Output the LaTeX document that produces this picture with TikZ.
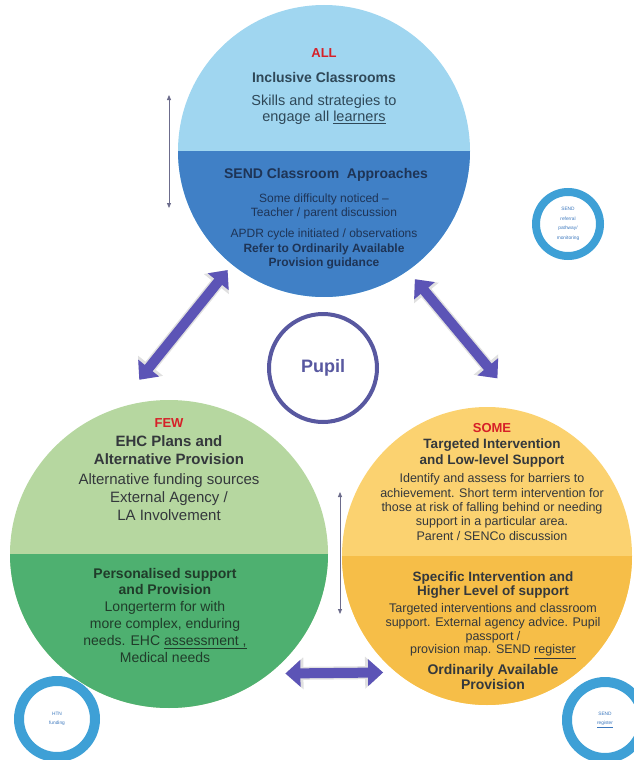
\documentclass[tikz,border=0pt]{standalone}
\usepackage{fontspec}
\setmainfont{Liberation Sans}
\usepackage{tikz}
\usetikzlibrary{arrows.meta,shapes.geometric,positioning}
\definecolor{allblue}{RGB}{160,214,240}
\definecolor{senddark}{RGB}{64,128,198}
\definecolor{fewlight}{RGB}{182,215,160}
\definecolor{fewdark}{RGB}{78,176,112}
\definecolor{somelight}{RGB}{251,210,112}
\definecolor{somedark}{RGB}{246,190,72}
\definecolor{levelred}{RGB}{214,32,40}
\definecolor{arrowpurple}{RGB}{92,84,182}
\definecolor{pupilring}{RGB}{88,88,160}
\definecolor{ringblue}{RGB}{62,160,214}
\definecolor{topink}{RGB}{47,72,88}
\definecolor{sendink}{RGB}{30,52,86}
\definecolor{greyink}{RGB}{52,56,60}
\definecolor{greenink}{RGB}{32,60,42}
\definecolor{smallink}{RGB}{60,120,190}
\definecolor{thinline}{RGB}{108,108,140}
\newcommand{\fsz}[2]{\fontsize{#1}{#2}\selectfont}
\tikzstyle{bigdisc} = [ellipse, inner sep=0pt, draw=none]
\tikzset{lowerhalf/.style={path picture={\fill[#1] (path picture bounding box.west) rectangle (path picture bounding box.south east);}}}
\tikzstyle{level} = [font=\fsz{13}{15}\bfseries, text=levelred, inner sep=0pt]
\tikzstyle{bodytext} = [align=center, inner sep=0pt]
\tikzstyle{bigarrow} = [line width=10pt, arrowpurple, {Triangle[length=15pt,width=26pt]}-{Triangle[length=15pt,width=26pt]}, preaction={draw=black!12, line width=13pt, arrows={Triangle[length=18pt,width=31pt]-Triangle[length=18pt,width=31pt]}}]
\tikzstyle{thinarrow} = [thick, thinline, {Triangle[length=5pt,width=4pt]}-{Triangle[length=5pt,width=4pt]}]
\tikzstyle{ring} = [circle, fill=white, draw=ringblue, line width=8pt, align=center, text=smallink, font=\fsz{4.8}{9.5}, inner sep=0pt]
\tikzstyle{pupilbox} = [circle, fill=white, draw=pupilring, line width=4pt, minimum size=108pt, font=\fsz{18}{20}\bfseries, text=pupilring]

\begin{document}
\begin{tikzpicture}[x=1pt, y=-1pt]
\useasboundingbox (0,0) rectangle (634,760);

% the three levels
\node (all) [bigdisc, minimum width=292pt, minimum height=292pt, fill=allblue, lowerhalf=senddark] at (324,151) {};
\node (few) [bigdisc, minimum width=318pt, minimum height=308pt, fill=fewlight, lowerhalf=fewdark] at (169,554) {};
\node (some) [bigdisc, minimum width=290pt, minimum height=298pt, fill=somelight, lowerhalf=somedark] at (487,556) {};

% ALL
\node (allhead) [level] at (324,53) {ALL};
\node (alltitle) [bodytext, text=topink, font=\fsz{14}{16}\bfseries] at (324,77) {Inclusive Classrooms};
\node (allbody) [bodytext, text=topink, font=\fsz{14.5}{16}] at (324,110) {Skills and strategies to\\engage all \underline{learners}};
\node (sendtitle) [bodytext, text=sendink, font=\fsz{14}{16}\bfseries] at (326,175) {SEND Classroom\ \ Approaches};
\node (sendbody) [bodytext, text=sendink, font=\fsz{12}{14}] at (324,206) {Some difficulty noticed --\\Teacher / parent discussion};
\node (sendguide) [bodytext, text=sendink, font=\fsz{12}{14.5}] at (324,249) {APDR cycle initiated / observations\\\textbf{Refer to Ordinarily Available}\\\textbf{Provision guidance}};

% FEW
\node (fewhead) [level] at (169,423) {FEW};
\node (fewtitle) [bodytext, text=greyink, font=\fsz{15}{18}\bfseries] at (169,450) {EHC Plans and\\Alternative Provision};
\node (fewbody) [bodytext, text=greyink, font=\fsz{15}{18}] at (169,497) {Alternative funding sources\\External Agency /\\LA Involvement};
\node (fewplan) [bodytext, text=greenink, font=\fsz{14}{16.8}] at (165,615) {\textbf{Personalised support}\\\textbf{and Provision}\\Longerterm for with\\more complex, enduring\\needs. EHC \underline{assessment ,}\\Medical needs};

% SOME
\node (somehead) [level] at (492,428) {SOME};
\node (sometitle) [bodytext, text=greyink, font=\fsz{13.5}{16}\bfseries] at (492,453) {Targeted Intervention\\and Low-level Support};
\node (somebody) [bodytext, text=greyink, font=\fsz{12.5}{14.3}] at (492,507) {Identify and assess for barriers to\\achievement. Short term intervention for\\those at risk of falling behind or needing\\support in a particular area.\\Parent / SENCo discussion};
\node (specific) [bodytext, text=greyink, font=\fsz{13.5}{14.5}\bfseries] at (493,585) {Specific Intervention and\\Higher Level of support};
\node (specbody) [bodytext, text=greyink, font=\fsz{12.5}{13.8}] at (493,631) {Targeted interventions and classroom\\support. External agency advice. Pupil\\passport /\\provision map. SEND \underline{register}};
\node (oap) [bodytext, text=greyink, font=\fsz{14}{15.5}\bfseries] at (493,677) {Ordinarily Available\\Provision};

% pupil in the middle
\node (pupil) [pupilbox] at (323,368) {Pupil};

% small rings
\node (referral) [ring, minimum size=64pt] at (568,224) {SEND\\referral\\pathway/\\monitoring};
\node (htn) [ring, minimum size=76pt, line width=10pt] at (57,719) {HTN\\funding};
\node (register) [ring, minimum size=76pt, line width=10pt] at (605,720) {SEND\\\underline{register}};

% arrows between levels
\draw[bigarrow, shorten <=7pt, shorten >=37pt] (all.231) -- (few.110);
\draw[bigarrow, shorten <=11pt, shorten >=44pt] (all.305) -- (some.75);
\draw[bigarrow, shorten <=16pt, shorten >=13pt] (few.-50) -- (some.232);

% thin level arrows
\coordinate (lvltop) at (169,95);
\coordinate (lvlbot) at (169,208);
\coordinate (tiertop) at (340,492);
\coordinate (tierbot) at (340,614);
\draw[thinarrow] (lvltop) -- (lvlbot);
\draw[thinarrow] (tiertop) -- (tierbot);
\end{tikzpicture}
\end{document}
